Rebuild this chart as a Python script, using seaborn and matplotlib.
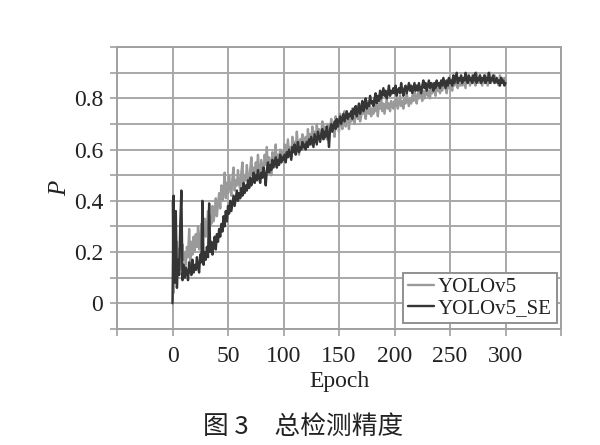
import numpy as np
import pandas as pd
import matplotlib
matplotlib.use("Agg")
import matplotlib.pyplot as plt
import seaborn as sns

yolov5 = [
    0.40,0.04,0.33,0.10,0.24,0.15,0.21,0.13,0.19,0.23,0.17,0.20,0.15,0.22,0.18,0.29,0.16,0.24,0.19,0.26,
    0.20,0.27,0.22,0.30,0.21,0.25,0.31,0.23,0.28,0.33,0.26,0.30,0.36,0.29,0.34,0.31,0.38,0.32,0.35,0.41,
    0.34,0.39,0.43,0.37,0.46,0.40,0.44,0.51,0.41,0.47,0.43,0.50,0.45,0.42,0.49,0.53,0.44,0.48,0.46,0.52,
    0.47,0.44,0.51,0.55,0.46,0.50,0.48,0.54,0.49,0.45,0.52,0.57,0.50,0.53,0.47,0.55,0.51,0.58,0.52,0.49,
    0.56,0.53,0.50,0.58,0.54,0.61,0.52,0.57,0.55,0.50,0.59,0.54,0.57,0.62,0.53,0.58,0.56,0.60,0.55,0.59,
    0.57,0.62,0.56,0.60,0.64,0.58,0.61,0.57,0.65,0.59,0.63,0.60,0.67,0.61,0.58,0.64,0.62,0.66,0.60,0.63,
    0.65,0.61,0.68,0.63,0.66,0.62,0.69,0.64,0.67,0.63,0.70,0.65,0.68,0.64,0.66,0.71,0.65,0.69,0.67,0.64,
    0.70,0.66,0.68,0.72,0.67,0.70,0.65,0.73,0.69,0.71,0.67,0.74,0.70,0.68,0.72,0.75,0.69,0.73,0.71,0.68,
    0.74,0.71,0.76,0.72,0.70,0.74,0.77,0.72,0.75,0.71,0.73,0.78,0.74,0.76,0.72,0.75,0.79,0.74,0.77,0.73,
    0.76,0.74,0.79,0.75,0.77,0.73,0.78,0.76,0.80,0.75,0.78,0.74,0.77,0.80,0.76,0.78,0.75,0.79,0.77,0.76,
    0.79,0.77,0.80,0.76,0.78,0.81,0.77,0.79,0.76,0.80,0.78,0.82,0.79,0.77,0.80,0.78,0.81,0.79,0.83,0.80,
    0.78,0.82,0.80,0.84,0.81,0.79,0.83,0.80,0.82,0.85,0.81,0.83,0.80,0.84,0.82,0.86,0.83,0.81,0.85,0.83,
    0.84,0.82,0.86,0.83,0.85,0.87,0.84,0.82,0.86,0.84,0.88,0.85,0.83,0.87,0.85,0.89,0.86,0.84,0.88,0.85,
    0.87,0.85,0.88,0.86,0.84,0.89,0.86,0.88,0.85,0.87,0.89,0.86,0.88,0.85,0.90,0.87,0.86,0.89,0.87,0.85,
    0.88,0.86,0.89,0.87,0.85,0.88,0.90,0.86,0.88,0.87,0.89,0.86,0.88,0.87,0.85,0.89,0.87,0.88,0.86,0.88,
    0.87,
]

yolov5_se = [
    0.00,0.42,0.08,0.36,0.06,0.17,0.11,0.31,0.44,0.09,0.15,0.10,0.14,0.12,0.09,0.16,0.13,0.11,0.17,0.12,
    0.15,0.13,0.18,0.14,0.12,0.19,0.16,0.40,0.15,0.20,0.17,0.22,0.18,0.39,0.20,0.24,0.19,0.23,0.26,0.21,
    0.27,0.24,0.29,0.26,0.31,0.28,0.34,0.30,0.36,0.32,0.38,0.35,0.40,0.36,0.39,0.42,0.38,0.41,0.44,0.40,
    0.43,0.41,0.45,0.42,0.47,0.43,0.46,0.44,0.48,0.45,0.49,0.46,0.48,0.51,0.47,0.50,0.48,0.52,0.49,0.47,
    0.51,0.49,0.53,0.50,0.46,0.52,0.55,0.51,0.54,0.52,0.56,0.53,0.55,0.57,0.53,0.56,0.54,0.58,0.55,0.57,
    0.56,0.58,0.55,0.59,0.57,0.60,0.58,0.56,0.61,0.59,0.62,0.58,0.60,0.63,0.59,0.61,0.60,0.63,0.61,0.62,
    0.60,0.63,0.61,0.64,0.62,0.65,0.63,0.61,0.66,0.64,0.62,0.67,0.65,0.63,0.66,0.68,0.64,0.67,0.65,0.69,
    0.66,0.61,0.68,0.70,0.67,0.69,0.71,0.68,0.72,0.69,0.71,0.73,0.70,0.72,0.74,0.71,0.73,0.75,0.72,0.74,
    0.73,0.75,0.72,0.76,0.74,0.77,0.73,0.75,0.78,0.74,0.76,0.79,0.75,0.77,0.80,0.76,0.78,0.77,0.81,0.78,
    0.79,0.77,0.80,0.82,0.78,0.81,0.79,0.83,0.80,0.82,0.84,0.81,0.83,0.80,0.82,0.85,0.81,0.83,0.82,0.84,
    0.82,0.85,0.81,0.83,0.84,0.82,0.86,0.83,0.81,0.84,0.85,0.82,0.84,0.86,0.83,0.85,0.82,0.84,0.86,0.83,
    0.85,0.83,0.86,0.84,0.82,0.85,0.87,0.84,0.86,0.83,0.85,0.87,0.84,0.86,0.85,0.83,0.86,0.84,0.87,0.85,
    0.86,0.84,0.87,0.85,0.88,0.86,0.84,0.87,0.85,0.88,0.86,0.87,0.85,0.89,0.86,0.88,0.90,0.86,0.88,0.87,
    0.89,0.86,0.88,0.87,0.90,0.87,0.86,0.89,0.87,0.88,0.86,0.89,0.87,0.90,0.86,0.88,0.87,0.89,0.86,0.88,
    0.87,0.89,0.86,0.88,0.87,0.90,0.86,0.88,0.87,0.89,0.86,0.87,0.88,0.86,0.87,0.85,0.88,0.86,0.87,0.85,
    0.86,
]

series_names = ["YOLOv5", "YOLOv5_SE"]
series_colors = ["#9a9a9a", "#353535"]
x_ticks = [-50, 0, 50, 100, 150, 200, 250, 300, 350]
x_tick_labels = ["", "0", "50", "100", "150", "200", "250", "300", ""]
y_ticks = [-0.1, 0.0, 0.1, 0.2, 0.3, 0.4, 0.5, 0.6, 0.7, 0.8, 0.9, 1.0]
y_tick_labels = ["", "0", "", "0.2", "", "0.4", "", "0.6", "", "0.8", "", ""]
x_label = "Epoch"
y_label = "P"
caption = "图 3\u3000总检测精度"

df = pd.DataFrame({
    "epoch": list(range(len(yolov5))) + list(range(len(yolov5_se))),
    "P": yolov5 + yolov5_se,
    "model": [series_names[0]] * len(yolov5) + [series_names[1]] * len(yolov5_se),
})

sns.set_theme(style="white")
plt.rcParams["font.family"] = ["Liberation Serif", "DejaVu Serif"]

fig = plt.figure(figsize=(6.0, 4.45), dpi=100)
ax = fig.add_axes([0.195, 0.261, 0.74, 0.633])

sns.lineplot(data=df, x="epoch", y="P", hue="model", hue_order=series_names,
             palette=series_colors, linewidth=1.7, ax=ax, legend=True)

ax.set_xlim(-50, 350)
ax.set_ylim(-0.1, 1.0)
ax.set_xticks(x_ticks)
ax.set_xticklabels(x_tick_labels)
ax.set_yticks(y_ticks)
ax.set_yticklabels(y_tick_labels)
ax.grid(True, color="#a8a8a8", linewidth=1.4)
ax.set_axisbelow(True)
for s in ax.spines.values():
    s.set_color("#a0a0a0")
    s.set_linewidth(1.4)
ax.tick_params(axis="both", which="major", length=5, width=1.2, color="#a0a0a0",
               labelsize=17, labelcolor="#222222", left=True, bottom=True)
ax.tick_params(axis="x", pad=7)
ax.tick_params(axis="y", pad=5)
ax.set_xlabel(x_label, fontsize=17, color="#222222", labelpad=3)
ax.set_ylabel(y_label, fontsize=18, color="#222222", style="italic", labelpad=2)

leg = ax.legend(loc="lower right", bbox_to_anchor=(0.99, 0.02), fontsize=15,
                frameon=True, fancybox=False, handlelength=1.25, handletextpad=0.15,
                borderpad=0.25, labelspacing=0.05, borderaxespad=0.0)
leg.get_frame().set_edgecolor("#909090")
leg.get_frame().set_linewidth(1.4)
leg.get_frame().set_facecolor("white")
leg.get_frame().set_alpha(1.0)
for t in leg.get_texts():
    t.set_color("#222222")

fig.text(0.505, 0.04, caption, ha="center", va="center", fontsize=18.5,
         family=["Noto Sans CJK SC", "DejaVu Sans"], color="#222222")

fig.savefig("out.png", dpi=100, facecolor="white")
